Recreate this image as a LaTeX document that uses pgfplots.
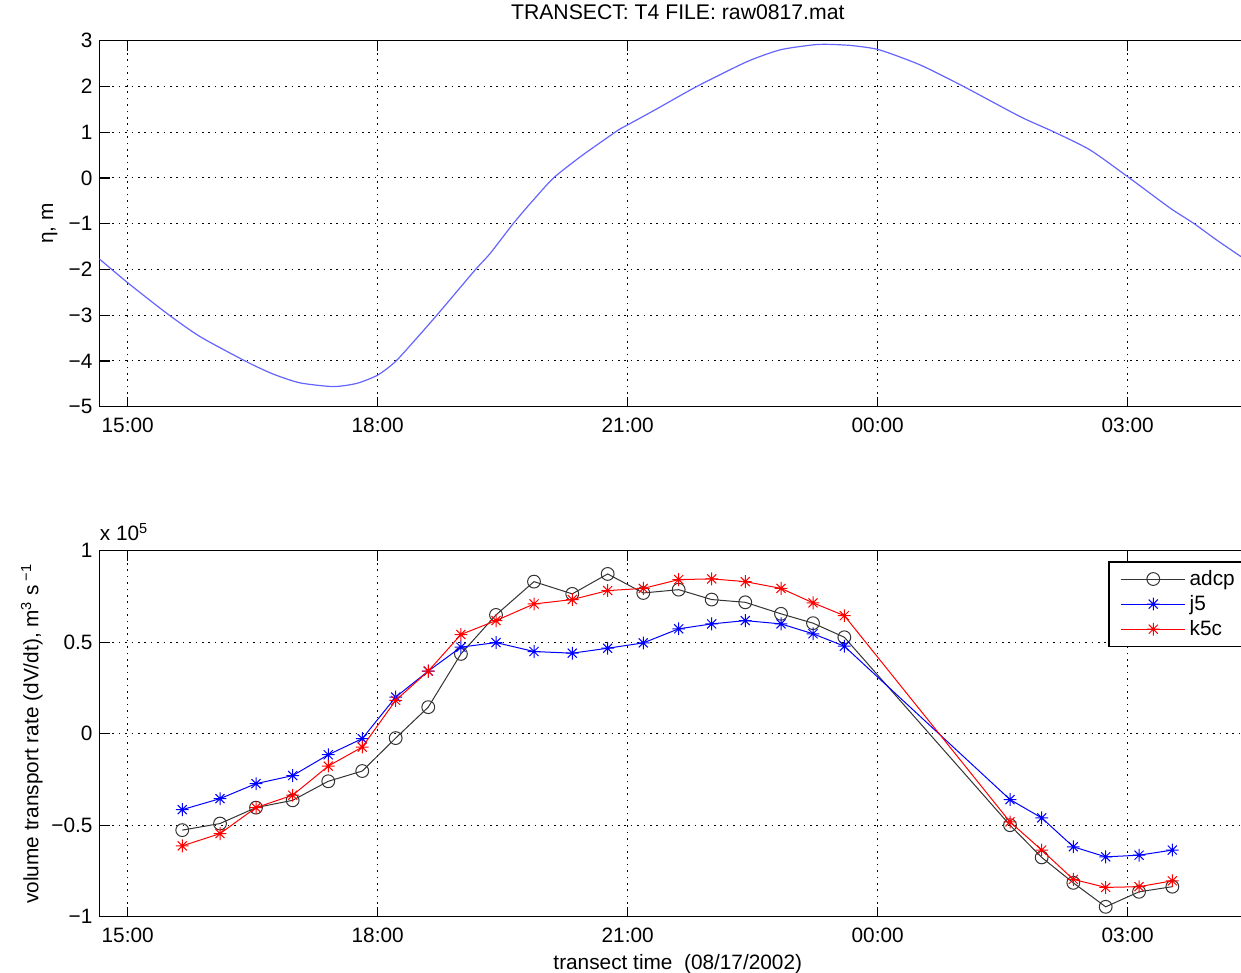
\documentclass[border=0pt]{standalone}
\usepackage{fontspec}
\setmainfont{Liberation Sans}
\usepackage{pgfplots}
\usepackage{pgfplotstable}
\pgfplotsset{compat=1.18}
\definecolor{etacol}{RGB}{100,100,255}
\pgfdeclareplotmark{mstar}{%
  \pgfpathmoveto{\pgfqpoint{-\pgfplotmarksize}{0pt}}\pgfpathlineto{\pgfqpoint{\pgfplotmarksize}{0pt}}%
  \pgfpathmoveto{\pgfqpoint{0pt}{-\pgfplotmarksize}}\pgfpathlineto{\pgfqpoint{0pt}{\pgfplotmarksize}}%
  \pgfpathmoveto{\pgfqpoint{-.707\pgfplotmarksize}{-.707\pgfplotmarksize}}\pgfpathlineto{\pgfqpoint{.707\pgfplotmarksize}{.707\pgfplotmarksize}}%
  \pgfpathmoveto{\pgfqpoint{-.707\pgfplotmarksize}{.707\pgfplotmarksize}}\pgfpathlineto{\pgfqpoint{.707\pgfplotmarksize}{-.707\pgfplotmarksize}}%
  \pgfusepathqstroke}

\pgfplotstableread{
h eta
14.66 -1.77
15.00 -2.29
15.47 -2.96
15.87 -3.47
16.43 -4.02
16.75 -4.29
17.07 -4.48
17.47 -4.56
17.75 -4.49
18.00 -4.31
18.21 -4.02
18.45 -3.54
18.71 -3.00
19.17 -2.01
19.35 -1.65
19.63 -0.99
19.85 -0.52
20.11 0.00
20.43 0.46
20.63 0.72
20.89 1.05
21.00 1.16
21.35 1.51
21.83 2.00
22.43 2.54
22.83 2.80
23.23 2.91
23.40 2.92
23.55 2.91
23.71 2.89
24.02 2.80
24.51 2.47
25.03 2.00
25.71 1.34
26.11 1.01
26.55 0.61
27.02 0.00
27.51 -0.66
27.79 -0.99
28.07 -1.36
28.36 -1.72
}\etatable

\pgfplotstableread{
h adcp j5 k5c
15.655 -0.527 -0.415 -0.613
16.108 -0.491 -0.355 -0.546
16.540 -0.404 -0.273 -0.404
16.980 -0.364 -0.229 -0.336
17.407 -0.260 -0.115 -0.177
17.815 -0.204 -0.027 -0.073
18.216 -0.024 0.200 0.182
18.607 0.145 0.342 0.342
18.999 0.436 0.473 0.542
19.420 0.649 0.498 0.618
19.876 0.831 0.449 0.709
20.335 0.764 0.440 0.733
20.760 0.873 0.467 0.782
21.187 0.769 0.496 0.794
21.612 0.787 0.573 0.842
22.008 0.733 0.600 0.846
22.411 0.718 0.618 0.831
22.840 0.655 0.600 0.794
23.224 0.604 0.546 0.715
23.600 0.527 0.478 0.645
25.588 -0.500 -0.360 -0.482
25.968 -0.676 -0.460 -0.636
26.348 -0.815 -0.618 -0.796
26.736 -0.946 -0.673 -0.840
27.136 -0.864 -0.664 -0.836
27.536 -0.836 -0.636 -0.804
}\qtable

\begin{document}
\begin{tikzpicture}
\useasboundingbox (0pt,0pt) rectangle (620.5pt,486.5pt);
\pgfplotsset{
  myax/.style={
    scale only axis, width=578.25pt, height=183pt,
    anchor=south west,
    xmin=14.662, xmax=28.54,
    xtick={15,18,21,24,27}, xticklabels={15:00,18:00,21:00,00:00,03:00},
    tick align=inside, xtick pos=both, ytick pos=left,
    major tick length=5pt,
    grid=major,
    major grid style={black, line width=0.5pt, dash pattern=on 0.8pt off 2.4pt},
    axis line style={line width=0.6pt},
    every tick/.style={black, line width=0.6pt},
    tick label style={font=\fontsize{10.4}{12}\selectfont},
    xticklabel style={yshift=-2pt},
    label style={font=\fontsize{10.4}{12}\selectfont},
    title style={font=\fontsize{10.6}{12}\selectfont, yshift=1pt},
    clip mode=individual,
  }
}
\begin{axis}[myax, at={(49.75pt,283.15pt)},
  ymin=-5, ymax=3, ytick={-5,-4,-3,-2,-1,0,1,2,3},
  yticklabels={−5,−4,−3,−2,−1,0,1,2,3},
  ylabel={η, m},
  ylabel style={at={(axis description cs:-0.043,0.5)}, anchor=center},
  title={TRANSECT: T4 FILE: raw0817.mat}]
\addplot[etacol, line width=0.6pt, smooth, tension=0.4] table[x=h, y=eta] {\etatable};
\end{axis}
\begin{axis}[myax, at={(49.75pt,28.15pt)},
  ymin=-1, ymax=1, ytick={-1,-0.5,0,0.5,1},
  yticklabels={−1,−0.5,0,0.5,1},
  ylabel={volume transport rate (dV/dt), m\textsuperscript{3} s\,\textsuperscript{−1}},
  ylabel style={at={(axis description cs:-0.0586,0.5)}, anchor=center},
  xlabel={transect time\ \ (08/17/2002)},
  xlabel style={yshift=1pt},
  legend style={at={(0.8723,0.9708)}, anchor=north west, draw=black, line width=0.6pt,
    font=\fontsize{10.4}{12}\selectfont, row sep=-0.5pt, inner xsep=6pt, inner ysep=2pt},
  legend cell align=left,
  legend image code/.code={\draw[mark repeat=2,mark phase=2] plot coordinates {(0cm,0cm)(0.56cm,0cm)(1.12cm,0cm)};},
  ]
\addplot[black!80, line width=0.5pt, mark=o, mark size=3.2pt, mark options={solid}] table[x=h, y=adcp] {\qtable};
\addlegendentry{adcp}
\addplot[blue, line width=0.5pt, mark=mstar, mark size=3.2pt] table[x=h, y=j5] {\qtable};
\addlegendentry{j5}
\addplot[red, line width=0.5pt, mark=mstar, mark size=3.2pt] table[x=h, y=k5c] {\qtable};
\addlegendentry{k5c}
\node[anchor=base west, inner sep=0pt, font=\fontsize{10.4}{12}\selectfont] at ([yshift=5pt]rel axis cs:0,1) {x 10\textsuperscript{5}};
\end{axis}
\end{tikzpicture}
\end{document}
